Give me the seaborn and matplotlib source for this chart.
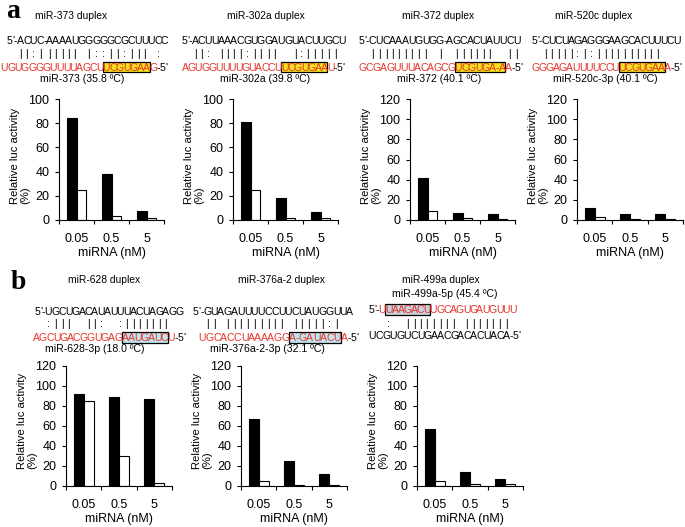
import matplotlib
matplotlib.use("Agg")
import matplotlib.pyplot as plt
import seaborn as sns
import pandas as pd
from matplotlib.font_manager import FontProperties
from matplotlib.patches import Rectangle

# luciferase activity (%), black bars / white bars
conc = ["0.05", "0.5", "5"]
mir373_black = [84, 38, 7.5]
mir373_white = [25, 3, 1.5]
mir302a_black = [81, 18, 7]
mir302a_white = [25, 1.5, 1.5]
mir372_black = [42, 7, 6]
mir372_white = [9, 2, 1]
mir520c_black = [12, 5.5, 5.5]
mir520c_white = [3, 1, 1]
mir628_black = [92, 89, 87]
mir628_white = [85, 30, 3]
mir376a2_black = [67, 25, 12]
mir376a2_white = [5, 1, 1]
mir499a_black = [57, 14, 7]
mir499a_white = [5, 2, 2]

W, H = 685, 527
RED = "#e5352b"
YELLOW = "#f6e21c"
BLUE = "#bfe6f0"
GREY = "#c8d4dd"
FONT = "Liberation Sans"

sns.set_style("ticks", {"axes.edgecolor": "black", "xtick.color": "black",
                        "ytick.color": "black", "axes.labelcolor": "black",
                        "text.color": "black"})
plt.rcParams["font.family"] = [FONT, "DejaVu Sans"]

fig = plt.figure(figsize=(W / 100, H / 100), dpi=100)
renderer = fig.canvas.get_renderer()


def fx(x):
    return x / W


def fy(y):
    return 1 - y / H


def bar_panel(left, top, width, height, black, white, ymax, label_y):
    ax = fig.add_axes([fx(left), fy(top + height), width / W, height / H])
    df = pd.DataFrame({"miRNA": conc * 2,
                       "activity": black + white,
                       "kind": ["black"] * 3 + ["white"] * 3})
    sns.barplot(data=df, x="miRNA", y="activity", hue="kind",
                palette=["black", "white"], edgecolor="black", linewidth=0.8,
                width=0.56, legend=False, errorbar=None, ax=ax)
    ax.set_xlim(-0.5, 2.5)
    ax.set_ylim(0, ymax)
    ax.set_yticks(range(0, ymax + 1, 20))
    ax.set_xticks([-0.5, 0.5, 1.5, 2.5], minor=True)
    ax.tick_params(axis="x", which="major", length=0, pad=9, labelsize=9)
    ax.tick_params(axis="x", which="minor", length=3, width=0.8)
    ax.tick_params(axis="y", length=3, width=0.8, pad=4, labelsize=9)
    ax.set_xlabel("miRNA (nM)", fontsize=9, labelpad=2)
    ax.set_ylabel("Relative luc activity\n(%)", fontsize=8.1,
                  multialignment="left", linespacing=1.0)
    ax.yaxis.set_label_coords(-29 / width, label_y)
    for s in ("left", "bottom"):
        ax.spines[s].set_linewidth(0.8)
    sns.despine(ax=ax)
    return ax


def strand(x0, y, s, size, colors, width):
    prop = FontProperties(family=FONT, size=size)
    adv = [renderer.get_text_width_height_descent(c, prop, ismath=False)[0]
           for c in s]
    k = width / sum(adv)
    spans = []
    x = x0
    for i, c in enumerate(s):
        w = adv[i] * k
        fig.text(fx(x + w / 2), fy(y + 3.8), c, ha="center", va="baseline",
                 fontsize=size, color=colors[i], zorder=3)
        spans.append((x, x + w))
        x += w
    return spans


def duplex(d, size=7.6):
    top, pair, bot = d["top"], d["pair"], d["bot"]
    yt, yp, yb = d["y"]
    tcol = ["black"] * len(top)
    bcol = ["black"] * len(bot)
    which, a, b = d["red"]
    for i in range(a, b + 1):
        (tcol if which == "top" else bcol)[i] = RED
    tspan = strand(d["x"][0], yt, top, size, tcol, d["w"][0])
    bspan = strand(d["x"][1], yb, bot, size, bcol, d["w"][1])
    for i, c in enumerate(pair[:len(top)]):
        if c != " ":
            cx = (tspan[i][0] + tspan[i][1]) / 2
            fig.text(fx(cx), fy(yp + 3.8), c, ha="center", va="baseline",
                     fontsize=size, zorder=3)
    where, i0, i1, col, bh = d["box"]
    spans, yc = (tspan, yt) if where == "top" else (bspan, yb)
    x0, x1 = spans[i0][0], spans[i1][1]
    fig.add_artist(Rectangle((fx(x0), fy(yc + bh / 2)), (x1 - x0) / W, bh / H,
                             transform=fig.transFigure, facecolor=col,
                             edgecolor="black", linewidth=0.9, zorder=2))


duplexes = [
    dict(top="5'-ACUC-AAAAUGGGGGCGCUUUCC", pair="   ||:| ||||| |::||:||| : ",
         bot="UGUGGGGUUUUAGCUUCGUGAAG-5'", red=("bot", 0, 22),
         box=("bot", 15, 21, YELLOW, 10), x=(7, 1), w=(161, 166),
         y=(40, 53.5, 67)),
    dict(top="5'-ACUUAAACGUGGAUGUACUUGCU", pair="   ||: ||||:||||  |:||||| ",
         bot="AGUGGUUUUGUACCUUCGUGAAU-5'", red=("bot", 0, 22),
         box=("bot", 15, 21, YELLOW, 10), x=(182, 182), w=(163, 162),
         y=(40, 53.5, 67)),
    dict(top="5'-CUCAAAUGUGG-AGCACUAUUCU", pair="   ||||||||| |  ||||||  ||",
         bot="GCGAGUUUACAGCGUCGUGA-AA-5'", red=("bot", 0, 22),
         box=("bot", 14, 21, YELLOW, 10), x=(359, 359), w=(161, 163),
         y=(40, 53.5, 67)),
    dict(top="5'-CUCUAGAGGGAAGCACUUUCU", pair="   |||||:|:||||||||||   ",
         bot="GGGAGAUUUUCCUUCGUGAAA-5'", red=("bot", 0, 20),
         box=("bot", 13, 19, YELLOW, 10), x=(532, 532), w=(148, 149),
         y=(40, 53.5, 67)),
    dict(top="5'-UGCUGACAUAUUUACUAGAGG", pair="   :|||  ||:  :|||||||  ",
         bot="AGCUGACGGUGAGAAUGAUCU-5'", red=("bot", 0, 20),
         box=("bot", 13, 19, BLUE, 11), x=(35, 33), w=(148, 152),
         y=(311, 323, 337)),
    dict(top="5'-GUAGAUUUUCCUUCUAUGGUUA", pair="   || ||||||||| |||||:|  ",
         bot="UGCACCUAAAAGGA-GAUACUA-5'", red=("bot", 0, 21),
         box=("bot", 13, 20, BLUE, 11), x=(193, 199), w=(160, 159),
         y=(311, 323, 337)),
    dict(top="5'-UUAAGACUUGCAGUGAUGUUU", pair="    :  |||||||| ||||||| ",
         bot="UCGUGUCUGAACGACACUACA-5'", red=("top", 3, 23),
         box=("top", 4, 10, GREY, 11), x=(369, 369), w=(147, 151),
         y=(309, 323, 335)),
]

# bar panels
bar_panel(59, 99, 105, 121, mir373_black, mir373_white, 100, 0.53)
bar_panel(233, 99, 105, 121, mir302a_black, mir302a_white, 100, 0.53)
bar_panel(410, 99, 105, 121, mir372_black, mir372_white, 120, 0.53)
bar_panel(577, 99, 106, 121, mir520c_black, mir520c_white, 120, 0.53)
bar_panel(66, 366, 106, 120, mir628_black, mir628_white, 120, 0.54)
bar_panel(241, 366, 106, 120, mir376a2_black, mir376a2_white, 120, 0.54)
bar_panel(417, 366, 106, 120, mir499a_black, mir499a_white, 120, 0.54)

for d in duplexes:
    duplex(d)

# titles and duplex labels
titles = [("miR-373 duplex", 71, 16), ("miR-302a duplex", 266, 16),
          ("miR-372 duplex", 438, 16), ("miR-520c duplex", 594, 16),
          ("miR-628 duplex", 104, 280), ("miR-376a-2 duplex", 281, 280),
          ("miR-499a duplex", 441, 280)]
for t, x, y in titles:
    fig.text(fx(x), fy(y), t, ha="center", va="center", fontsize=7.4)

labels = [("miR-373 (35.8 ºC)", 82, 79), ("miR-302a (39.8 ºC)", 265, 79),
          ("miR-372 (40.1 ºC)", 439, 79), ("miR-520c-3p (40.1 ºC)", 605, 79),
          ("miR-628-3p (18.0 ºC)", 95, 349), ("miR-376a-2-3p (32.1 ºC)", 267, 349),
          ("miR-499a-5p (45.4 ºC)", 445, 294)]
for t, x, y in labels:
    fig.text(fx(x), fy(y), t, ha="center", va="center", fontsize=7.6)

fig.text(fx(6), fy(18), "a", fontsize=20, fontweight="bold",
         family="Liberation Serif", ha="left", va="baseline")
fig.text(fx(11), fy(289), "b", fontsize=20, fontweight="bold",
         family="Liberation Serif", ha="left", va="baseline")

fig.savefig("out.png", dpi=100)
